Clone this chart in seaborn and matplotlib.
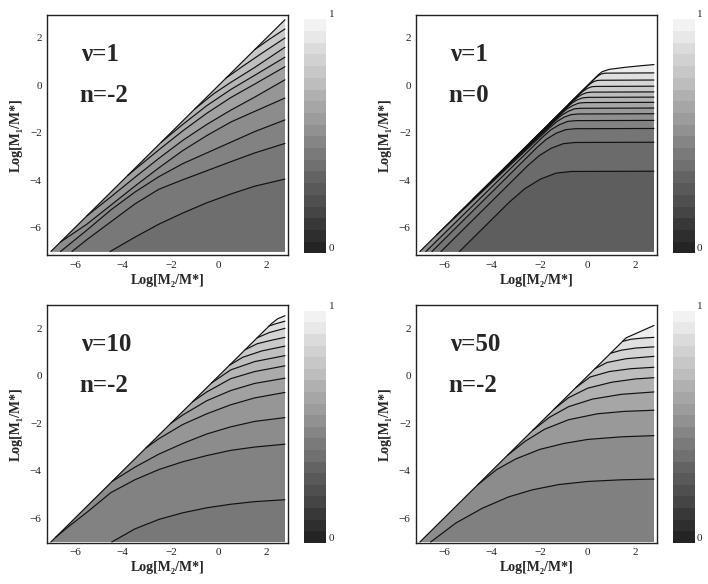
import numpy as np
import pandas as pd
import matplotlib
matplotlib.use("Agg")
import matplotlib.pyplot as plt
from matplotlib.colors import ListedColormap
import seaborn as sns

# ---------------- values ----------------
# axis labels / panel labels
x_label = "Log[M₂/M*]"
y_label = "Log[M₁/M*]"
tick_values = [-6, -4, -2, 0, 2]

p1_label = ["ν=1", "n=-2"]
p2_label = ["ν=1", "n=0"]
p3_label = ["ν=10", "n=-2"]
p4_label = ["ν=50", "n=-2"]

# upper edge of the shaded domain (x=Log M2, y=Log M1)
p1_boundary = [(-7.0, -7.0), (2.76, 2.76)]
p2_boundary = [(-7.0, -7.0), (0.45, 0.45), (0.6, 0.57), (0.9, 0.67), (1.6, 0.76), (2.2, 0.82), (2.76, 0.87)]
p3_boundary = [(-7.0, -7.0), (2.2, 2.2), (2.45, 2.4), (2.76, 2.53)]
p4_boundary = [(-7.0, -7.0), (1.6, 1.6), (2.76, 2.12)]

# contour lines, from the lowest level to the highest
p1_contours = [
    [(-4.53, -7.0), (-3.5, -6.4), (-2.5, -5.85), (-1.5, -5.38), (-0.5, -4.95), (0.5, -4.58), (1.5, -4.25), (2.76, -3.95)],
    [(-6.12, -7.0), (-5.5, -6.5), (-4.5, -5.75), (-3.5, -5.0), (-2.5, -4.38), (-1.5, -3.98), (-0.5, -3.6), (0.5, -3.22), (1.5, -2.85), (2.76, -2.45)],
    [(-6.6, -7.0), (-5.5, -6.1), (-4.5, -5.25), (-3.5, -4.5), (-2.5, -3.85), (-1.5, -3.3), (-0.5, -2.85), (0.5, -2.4), (1.5, -1.95), (2.76, -1.46)],
    [(-6.6, -6.6), (-5.5, -5.85), (-4.5, -5.05), (-3.5, -4.25), (-2.5, -3.48), (-1.5, -2.75), (-0.5, -2.12), (0.5, -1.55), (1.5, -1.1), (2.76, -0.54)],
    [(-5.5, -5.5), (-4.5, -4.7), (-3.5, -3.88), (-2.5, -3.08), (-1.5, -2.32), (-0.5, -1.65), (0.5, -1.05), (1.5, -0.5), (2.76, 0.23)],
    [(-3.8, -3.8), (-2.5, -2.72), (-1.5, -1.92), (-0.5, -1.18), (0.5, -0.52), (1.5, 0.05), (2.76, 0.78)],
    [(-2.4, -2.4), (-1.5, -1.65), (-0.5, -0.86), (0.5, -0.18), (1.5, 0.42), (2.76, 1.18)],
    [(-1.0, -1.0), (-0.2, -0.35), (0.5, 0.12), (1.5, 0.75), (2.76, 1.60)],
    [(0.3, 0.3), (1.0, 0.8), (1.8, 1.35), (2.76, 1.99)],
    [(1.5, 1.5), (2.1, 1.93), (2.76, 2.37)],
]
p2_contours = [
    [(-5.35, -7.0), (-3.27, -4.92), (-2.62, -4.35), (-1.97, -3.95), (-1.32, -3.70), (-0.67, -3.63), (2.76, -3.62)],
    [(-6.12, -7.0), (-2.52, -3.40), (-2.02, -2.96), (-1.52, -2.65), (-1.02, -2.46), (-0.52, -2.41), (2.76, -2.40)],
    [(-6.5, -7.0), (-2.12, -2.62), (-1.72, -2.27), (-1.32, -2.02), (-0.92, -1.87), (-0.52, -1.83), (2.76, -1.82)],
    [(-6.75, -7.0), (-1.88, -2.18), (-1.53, -1.87), (-1.18, -1.66), (-0.83, -1.52), (-0.48, -1.49), (2.76, -1.48)],
    [(-6.3, -6.3), (-1.6, -1.8), (-1.3, -1.54), (-1.0, -1.35), (-0.7, -1.24), (-0.4, -1.21), (2.76, -1.20)],
    [(-5.6, -5.6), (-1.37, -1.51), (-1.10, -1.27), (-0.82, -1.10), (-0.55, -0.99), (-0.27, -0.97), (2.76, -0.96)],
    [(-4.8, -4.8), (-1.12, -1.22), (-0.87, -1.0), (-0.62, -0.85), (-0.37, -0.75), (-0.12, -0.73), (2.76, -0.72)],
    [(-4.0, -4.0), (-0.88, -0.95), (-0.66, -0.75), (-0.43, -0.61), (-0.21, -0.53), (0.02, -0.51), (2.76, -0.50)],
    [(-3.2, -3.2), (-0.63, -0.68), (-0.43, -0.51), (-0.23, -0.38), (-0.03, -0.31), (0.17, -0.29), (2.76, -0.28)],
    [(-2.4, -2.4), (-0.36, -0.39), (-0.18, -0.24), (-0.01, -0.13), (0.17, -0.06), (0.35, -0.05), (2.76, -0.04)],
    [(-1.6, -1.6), (-0.06, -0.08), (0.09, 0.05), (0.24, 0.15), (0.39, 0.20), (0.54, 0.21), (2.76, 0.22)],
    [(-0.8, -0.8), (0.28, 0.27), (0.41, 0.38), (0.53, 0.46), (0.66, 0.50), (0.78, 0.51), (2.76, 0.52)],
]
p3_contours = [
    [(-4.46, -7.0), (-3.5, -6.45), (-2.5, -6.05), (-1.5, -5.77), (-0.5, -5.56), (0.5, -5.41), (1.5, -5.30), (2.76, -5.22)],
    [(-6.8, -6.8), (-6.2, -6.3), (-5.5, -5.75), (-4.5, -4.92), (-3.5, -4.38), (-2.5, -3.95), (-1.5, -3.62), (-0.5, -3.36), (0.5, -3.14), (1.5, -3.0), (2.76, -2.88)],
    [(-4.45, -4.45), (-3.5, -3.85), (-2.5, -3.3), (-1.5, -2.85), (-0.5, -2.45), (0.5, -2.15), (1.5, -1.92), (2.76, -1.76)],
    [(-3.05, -3.05), (-2.5, -2.65), (-1.5, -2.05), (-0.5, -1.6), (0.5, -1.22), (1.5, -0.93), (2.76, -0.70)],
    [(-2.0, -2.0), (-1.5, -1.65), (-0.5, -1.05), (0.5, -0.62), (1.5, -0.32), (2.76, -0.10)],
    [(-1.1, -1.1), (-0.5, -0.68), (0.5, -0.12), (1.5, 0.18), (2.76, 0.42)],
    [(-0.3, -0.3), (0.5, 0.25), (1.5, 0.6), (2.76, 0.85)],
    [(0.45, 0.45), (1.0, 0.78), (1.8, 1.05), (2.76, 1.25)],
    [(1.1, 1.1), (1.6, 1.35), (2.2, 1.5), (2.76, 1.62)],
    [(1.6, 1.6), (2.1, 1.82), (2.76, 2.0)],
    [(2.1, 2.1), (2.4, 2.2), (2.76, 2.30)],
]
p4_contours = [
    [(-6.55, -7.0), (-5.5, -6.2), (-4.4, -5.58), (-3.3, -5.1), (-2.3, -4.8), (-1.2, -4.58), (0.0, -4.45), (1.4, -4.38), (2.76, -4.35)],
    [(-4.6, -4.6), (-3.8, -3.95), (-3.0, -3.5), (-2.0, -3.1), (-1.0, -2.85), (0.0, -2.68), (1.4, -2.57), (2.76, -2.52)],
    [(-3.35, -3.35), (-2.6, -2.75), (-1.8, -2.25), (-0.8, -1.85), (0.4, -1.6), (1.5, -1.5), (2.76, -1.45)],
    [(-2.3, -2.3), (-1.6, -1.75), (-0.8, -1.3), (0.2, -0.98), (1.4, -0.78), (2.76, -0.68)],
    [(-1.4, -1.4), (-0.8, -0.92), (0.0, -0.52), (1.0, -0.27), (2.0, -0.13), (2.76, -0.08)],
    [(-0.5, -0.5), (0.1, -0.05), (0.9, 0.18), (1.8, 0.3), (2.76, 0.36)],
    [(0.3, 0.3), (0.8, 0.56), (1.6, 0.72), (2.76, 0.82)],
    [(0.95, 0.95), (1.4, 1.08), (2.0, 1.17), (2.76, 1.22)],
    [(1.45, 1.45), (1.8, 1.54), (2.3, 1.59), (2.76, 1.62)],
]

# gray level of each band between contours (lowest band first)
p1_shades = [0.43, 0.47, 0.51, 0.55, 0.59, 0.63, 0.67, 0.71, 0.75, 0.79, 0.83]
p2_shades = [0.37, 0.42, 0.46, 0.51, 0.56, 0.60, 0.65, 0.70, 0.74, 0.79, 0.84, 0.88, 0.93]
p3_shades = [0.47, 0.51, 0.55, 0.59, 0.63, 0.67, 0.71, 0.75, 0.79, 0.83, 0.87, 0.92]
p4_shades = [0.50, 0.55, 0.60, 0.65, 0.69, 0.74, 0.79, 0.83, 0.88, 0.93]

# colour bar: 20 gray bands from value 0 (bottom) to 1 (top)
cbar_grays = [0.14, 0.18, 0.22, 0.27, 0.31, 0.35, 0.39, 0.44, 0.48, 0.52,
              0.57, 0.61, 0.65, 0.69, 0.74, 0.78, 0.82, 0.86, 0.91, 0.95]
cbar_ticklabels = ["0", "1"]

# ---------------- drawing ----------------
sns.set_style("white")
plt.rcParams["font.family"] = ["Liberation Serif", "DejaVu Serif"]
plt.rcParams["axes.unicode_minus"] = True

W, H = 708, 584
fig = plt.figure(figsize=(W / 100, H / 100), dpi=100)


def rect(l, t, r, b):
    return [l / W, 1 - b / H, (r - l) / W, (b - t) / H]


panels = [
    dict(label=p1_label, boundary=p1_boundary, contours=p1_contours, shades=p1_shades,
         ax=rect(47.3, 14.7, 288.3, 255.3), cb=rect(304, 19.3, 326, 253.3), ylim=(-7.16, 2.97)),
    dict(label=p2_label, boundary=p2_boundary, contours=p2_contours, shades=p2_shades,
         ax=rect(416.3, 14.7, 657.3, 255.3), cb=rect(673.3, 19.3, 694.7, 253.3), ylim=(-7.16, 2.97)),
    dict(label=p3_label, boundary=p3_boundary, contours=p3_contours, shades=p3_shades,
         ax=rect(47.3, 305.3, 288.3, 542.7), cb=rect(304, 310.7, 326, 542.7), ylim=(-7.03, 2.97)),
    dict(label=p4_label, boundary=p4_boundary, contours=p4_contours, shades=p4_shades,
         ax=rect(416.3, 305.3, 657.3, 542.7), cb=rect(673.3, 310.7, 694.7, 542.7), ylim=(-7.03, 2.97)),
]

cmap = ListedColormap([str(g) for g in cbar_grays])

for p in panels:
    ax = fig.add_axes(p["ax"])
    boundary = p["boundary"]
    contours = p["contours"]
    shades = p["shades"]
    x_left, y_bottom = boundary[0]
    x_right = boundary[-1][0]

    # whole domain in the lightest shade
    dom = boundary + [(x_right, y_bottom)]
    ax.fill(*zip(*dom), color=str(shades[-1]), lw=0, zorder=1)
    # each region below a contour, painted from the top level downward
    for i in range(len(contours) - 1, -1, -1):
        line = contours[i]
        x0 = line[0][0]
        pts = [boundary[0]] + [q for q in boundary if x_left < q[0] < x0] + line + [(line[-1][0], y_bottom)]
        ax.fill(*zip(*pts), color=str(shades[i]), lw=0, zorder=2)

    rows = []
    for k, line in enumerate([boundary] + contours):
        for (x, y) in line:
            rows.append((k, x, y))
    df = pd.DataFrame(rows, columns=["unit", "x", "y"])
    sns.lineplot(data=df, x="x", y="y", units="unit", estimator=None, sort=False,
                 color="#111111", lw=0.85, ax=ax, zorder=3, legend=False)

    ax.set_xlim(-7.15, 2.9)
    ax.set_ylim(*p["ylim"])
    ax.set_xticks(tick_values)
    ax.set_yticks(tick_values)
    ax.tick_params(direction="in", length=3, width=0.7, labelsize=8, colors="#222222",
                   pad=4, top=False, right=False)
    for s in ax.spines.values():
        s.set_color("#222222")
        s.set_linewidth(1.0)
    ax.set_xlabel(x_label, fontsize=10, fontweight="bold", labelpad=3)
    ax.set_ylabel(y_label, fontsize=10, fontweight="bold", labelpad=5)

    ax.text(-5.75, 1.3, p["label"][0], fontsize=18, fontweight="bold", ha="left", va="center")
    ax.text(-5.8, -0.42, p["label"][1], fontsize=18, fontweight="bold", ha="left", va="center")

    cax = fig.add_axes(p["cb"])
    vals = np.arange(len(cbar_grays))[::-1].reshape(-1, 1)
    sns.heatmap(vals, cmap=cmap, vmin=-0.5, vmax=len(cbar_grays) - 0.5, cbar=False,
                xticklabels=False, yticklabels=False, ax=cax)
    for s in cax.spines.values():
        s.set_visible(False)
    cax.text(1.12, 1.0, cbar_ticklabels[1], transform=cax.transAxes, fontsize=8,
             ha="left", va="bottom")
    cax.text(1.1, 0.02, cbar_ticklabels[0], transform=cax.transAxes, fontsize=8,
             ha="left", va="center")

fig.savefig("out.png", dpi=100, facecolor="white")
